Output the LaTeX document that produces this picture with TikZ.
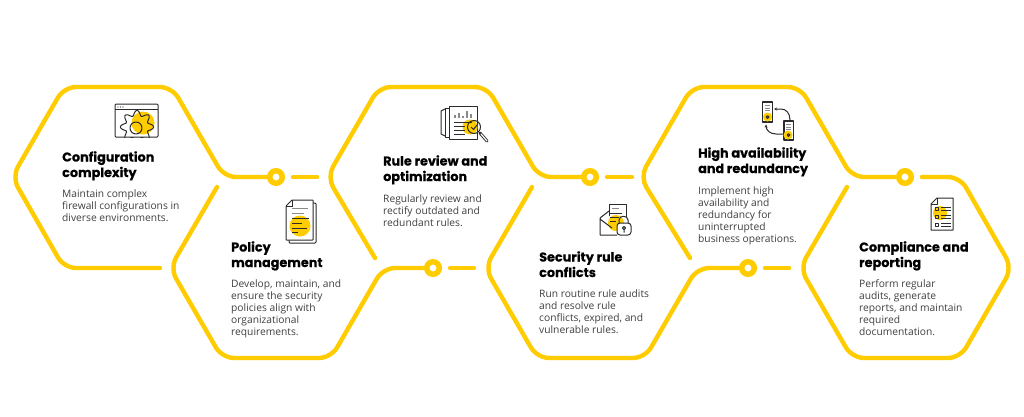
\documentclass[tikz,border=0pt]{standalone}
\usepackage{fontspec}
\setmainfont{Open Sans}
\newfontfamily\ttlfont{Poppins}[BoldFeatures={FakeBold=0.4}]
\usetikzlibrary{arrows.meta}
\definecolor{hexy}{HTML}{FFCC00}
\definecolor{ink}{HTML}{2B2B2B}
\definecolor{bodyc}{HTML}{404040}
\definecolor{graye}{HTML}{8A8A8A}
\tikzset{
  hexline/.style={draw=hexy,line width=4.4pt,line cap=round,rounded corners=12pt},
  ring/.style={circle,draw=hexy,fill=white,line width=5.5pt,minimum size=12.5pt,inner sep=0pt},
  title/.style={anchor=base west,inner sep=0pt,align=left,text=black,font=\ttlfont\bfseries\fontsize{12.8}{15.5}\selectfont},
  bodytxt/.style={anchor=base west,inner sep=0pt,align=left,text=bodyc,font=\fontsize{10.25}{12}\selectfont},
  ic/.style={draw=ink,line width=1pt,line join=round},
  icw/.style={ic,fill=white},
  icg/.style={draw=graye,line width=1pt},
  spot/.style={fill=hexy,draw=none},
}
\begin{document}
\begin{tikzpicture}[x=1pt,y=-1pt]
\useasboundingbox (0,0) rectangle (1024,416);
\fill[white] (0,0) rectangle (1024,416);
% rings
\node[ring] (r1) at (276,177) {};
\node[ring] (r2) at (433,268) {};
\node[ring] (r3) at (590,177) {};
\node[ring] (r4) at (748,268) {};
\node[ring] (r5) at (905,177) {};
% free ends
\coordinate (d1a) at (293,177); \coordinate (d1b) at (317,177);
\coordinate (d2a) at (450,268); \coordinate (d2b) at (474,268);
\coordinate (d3a) at (607,177); \coordinate (d3b) at (632,177);
\coordinate (d4a) at (765,268); \coordinate (d4b) at (789,268);
\coordinate (d5a) at (922,177);
\draw[hexline] (160,268) -- (64,268) -- (12,177) -- (64,87) -- (172,87) -- (224,177) -- (r1);
\draw[hexline] (217,187) -- (170,268) -- (222,358) -- (331,358) -- (383,268) -- (r2);
\draw[hexline] (375,258) -- (327,177) -- (379,87) -- (487,87) -- (539,177) -- (r3);
\draw[hexline] (532,187) -- (485,268) -- (537,358) -- (645,358) -- (697,268) -- (r4);
\draw[hexline] (690,258) -- (640,177) -- (692,87) -- (800,87) -- (852,177) -- (r5);
\draw[hexline] (d5a) -- (960,177) -- (1012,268) -- (960,358) -- (852,358) -- (800,268) -- (847,187);
\draw[hexline] (d1a) -- (d1b);
\draw[hexline] (d2a) -- (d2b);
\draw[hexline] (d3a) -- (d3b);
\draw[hexline] (d4a) -- (d4b);
% texts
\node[title] (t1) at (62,177) {Configuration\\complexity};
\node[bodytxt] (b1) at (62,221) {Maintain complex\\firewall configurations in\\diverse environments.};
\node[title] (t2) at (231,267) {Policy\\management};
\node[bodytxt] (b2) at (231,335) {Develop, maintain, and\\ensure the security\\policies align with\\organizational\\requirements.};
\node[title] (t3) at (383,181) {Rule review and\\optimization};
\node[bodytxt] (b3) at (383,226) {Regularly review and\\rectify outdated and\\redundant rules.};
\node[title] (t4) at (539,277) {Security rule\\conflicts};
\node[bodytxt] (b4) at (539,333) {Run routine rule audits\\and resolve rule\\conflicts, expired, and\\vulnerable rules.};
\node[title] (t5) at (698,173) {High availability\\and redundancy};
\node[bodytxt] (b5) at (698,242) {Implement high\\availability and\\redundancy for\\uninterrupted\\business operations.};
\node[title] (t6) at (859,267) {Compliance and\\reporting};
\node[bodytxt] (b6) at (859,335) {Perform regular\\audits, generate\\reports, and maintain\\required\\documentation.};
% icon 1: window with gears
\fill[spot] (143,123) circle (11.5);
\begin{scope}
\clip (115,110) rectangle (158,137);
\draw[ic] plot[smooth,domain=0:360,samples=97] ({137+(14+2.6*cos(8*\x))*cos(\x)},{127+(14+2.6*cos(8*\x))*sin(\x)});
\draw[ic] (136,128) circle (6);
\end{scope}
\draw[ic,rounded corners=1pt] (115,104) rectangle (158,137);
\draw[ic] (115,109.5) -- (158,109.5);
\foreach \x in {118,120.5,123} \fill[ink] (\x,107) circle (0.6);
% icon 2: document
\draw[icw,rounded corners=1pt] (289,203) rectangle (316,243);
\draw[icw,rounded corners=0.5pt] (292,200) -- (313,200) -- (313,240) -- (286,240) -- (286,206) -- cycle;
\draw[ic] (292,200) -- (292,206) -- (286,206);
\fill[spot] (300,226) circle (10.5);
\draw[icg] (292,208) -- (308,208) (292,213) -- (304,213);
\draw[ic] (292,218) -- (309,218) (292,223) -- (302,223) (292,228) -- (307,228) (292,232) -- (298,232);
% icon 3: report and magnifier
\draw[ic] (445,109) -- (441,111) -- (441,134) -- (445,136);
\draw[icw] (445,108) rectangle (449,137);
\draw[icw] (449,106) rectangle (477,139);
\fill[spot] (470,127) circle (7.5);
\draw[icg,line width=1.3pt] (455,118) -- (455,115) (459,118) -- (459,113) (463,118) -- (463,116) (467,118) -- (467,111) (471,118) -- (471,114);
\draw[ic] (454,122) -- (472,122) (454,126) -- (465,126) (454,130) -- (465,130) (454,134) -- (465,134);
\draw[draw=ink,line width=3pt,line cap=round] (480,133) -- (487,141);
\draw[draw=white,line width=1.2pt,line cap=round] (481,134) -- (487,141);
\draw[ic] (474,127) circle (6.5);
\draw[ic] (471,127) -- (473.5,129.5) -- (477,125);
% icon 4: envelope and lock
\draw[ic] (609,216) -- (609,204) -- (626,204) -- (626,217);
\fill[spot] (616,223) circle (8);
\draw[ic] (600,218) -- (609,211) (600,218) -- (600,235) -- (617,235) (600,219) -- (612,228);
\draw[icg] (612,208) -- (619,208);
\draw[ic] (610,213) -- (622,213) (610,217) -- (619,217) (610,221) -- (616,221);
\draw[ic] (619,224) -- (619,220) .. controls (619,215) and (628,215) .. (628,220) -- (628,224);
\draw[icw,rounded corners=3pt] (617,223) rectangle (631,235);
\draw[ic] (624,228) circle (1.6) (624,229.6) -- (624,232.5);
% icon 5: servers
\draw[icw,line width=1.2pt] (762.5,102) rectangle (772.5,122);
\fill[spot] (767.5,117) circle (4.5);
\draw[icg] (765,105.5) -- (770,105.5) (765,108) -- (770,108) (765,110.5) -- (770,110.5);
\draw[ic] (767.5,117) circle (1.4);
\draw[icw,line width=1.2pt] (784,121) rectangle (793.5,140);
\fill[spot] (788,135) circle (4.5);
\draw[icg] (786,124.5) -- (791,124.5) (786,127) -- (791,127) (786,129.5) -- (791,129.5);
\draw[ic] (788.5,135) circle (1.4);
\draw[ic,-{Stealth[length=3pt,width=3pt]}] (790,120) .. controls (790,113) and (786,109) .. (781,109) -- (774,109);
\draw[ic,-{Stealth[length=3pt,width=3pt]}] (783,134) -- (776,134) .. controls (770,134) and (766,130) .. (766,124.5);
% icon 6: compliance doc
\draw[icw] (937,198) -- (953,198) -- (953,230) -- (931,230) -- (931,204) -- cycle;
\draw[ic] (937,198) -- (937,204) -- (931,204);
\fill[spot] (940,213) circle (7);
\foreach \y in {209,217,225} {
  \draw[ic,line width=0.8pt] (935,\y-1.8) rectangle (938.5,\y+1.8);
  \draw[ic,line width=0.8pt] (941,\y-1.4) -- (951,\y-1.4) (941,\y+1.4) -- (951,\y+1.4);
}
\end{tikzpicture}
\end{document}
